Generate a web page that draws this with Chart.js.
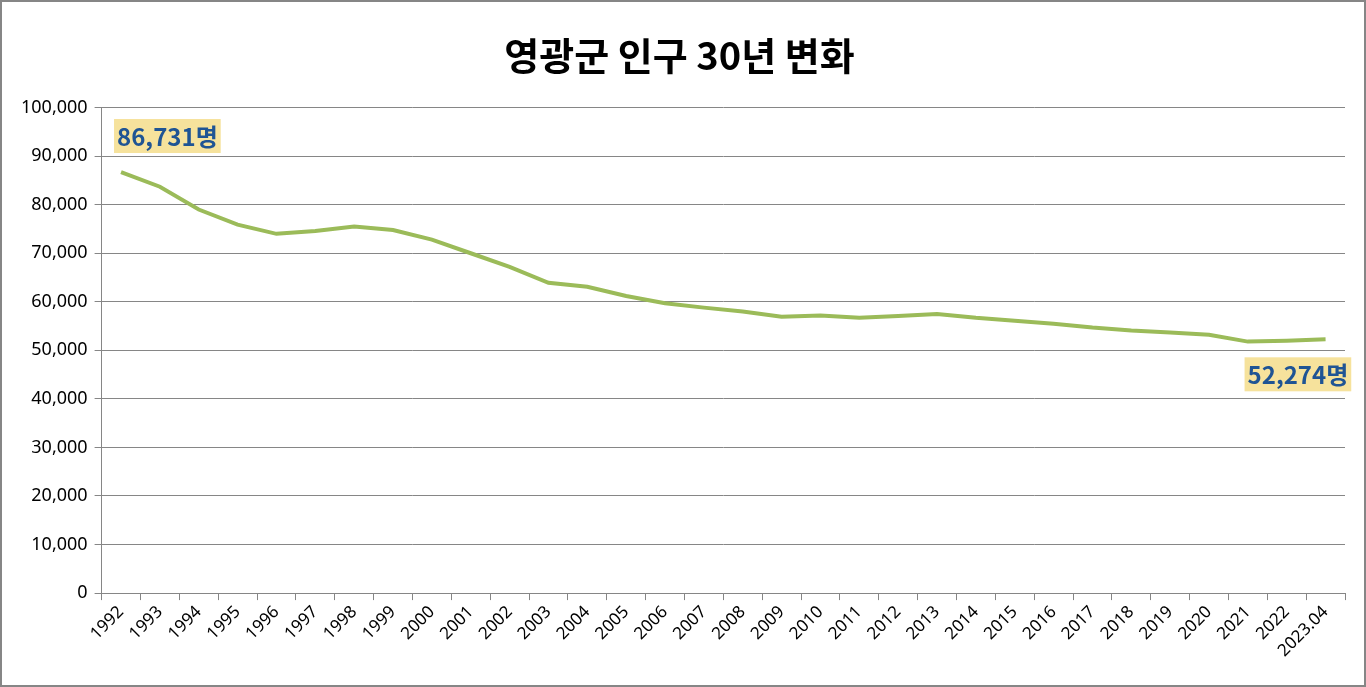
<!DOCTYPE html>
<html>
<head>
<meta charset="utf-8">
<script src="https://cdn.jsdelivr.net/npm/chart.js@4/dist/chart.umd.min.js"></script>
<style>
html,body{margin:0;padding:0;background:#fff;}
#wrap{position:relative;width:1366px;height:687px;box-sizing:border-box;border:2px solid #868686;}
canvas{display:block;}
</style>
</head>
<body>
<div id="wrap"><canvas id="c" width="1362" height="683"></canvas></div>
<script>
const titleText = '영광군 인구 30년 변화';
const years = ['1992','1993','1994','1995','1996','1997','1998','1999','2000','2001','2002','2003','2004','2005','2006','2007','2008','2009','2010','2011','2012','2013','2014','2015','2016','2017','2018','2019','2020','2021','2022','2023.04'];
const population = [86731,83700,79000,75900,74000,74600,75500,74800,72800,70000,67200,63900,63100,61200,59700,58800,58000,56900,57200,56700,57100,57500,56700,56100,55500,54700,54100,53700,53200,51800,52000,52274];
const yTicks = [0,10000,20000,30000,40000,50000,60000,70000,80000,90000,100000];
const calloutIdx = [0, population.length - 1];

const fmt = v => v.toLocaleString('en-US');

const callouts = {
  id: 'callouts',
  afterDatasetsDraw(chart) {
    const ctx = chart.ctx;
    const meta = chart.getDatasetMeta(0);
    ctx.save();
    ctx.font = 'bold 24px "Noto Sans CJK KR", "Noto Sans", sans-serif';
    ctx.textBaseline = 'middle';
    calloutIdx.forEach((i, k) => {
      const p = meta.data[i];
      const txt = fmt(population[i]) + '명';
      const w = ctx.measureText(txt).width + 6;
      const h = 34;
      let bx, by;
      if (k === 0) { bx = p.x - 7; by = p.y - 19 - h; }
      else { bx = p.x - 81; by = p.y + 18; }
      ctx.fillStyle = '#F6E29C';
      ctx.fillRect(bx, by, w, h);
      ctx.fillStyle = '#1F5494';
      ctx.textAlign = 'left';
      ctx.fillText(txt, bx + 3, by + h / 2 + 1);
    });
    ctx.restore();
  }
};

new Chart(document.getElementById('c'), {
  type: 'line',
  data: {
    labels: years,
    datasets: [{
      data: population,
      borderColor: '#9BBB59',
      borderWidth: 4,
      pointRadius: 0,
      tension: 0,
      fill: false
    }]
  },
  options: {
    responsive: false,
    animation: false,
    devicePixelRatio: 1,
    layout: { padding: { left: 12, right: 19, top: 6, bottom: 22 } },
    plugins: {
      legend: { display: false },
      tooltip: { enabled: false },
      title: {
        display: true,
        text: titleText,
        color: '#000',
        font: { family: '"Noto Sans CJK KR", sans-serif', size: 38, weight: 'bold' },
        padding: { top: 25, bottom: 29 }
      }
    },
    scales: {
      x: {
        offset: true,
        grid: { display: true, drawOnChartArea: false, offset: true, color: '#868686', tickLength: 7, tickWidth: 1 },
        border: { display: true, color: '#868686', width: 1 },
        ticks: {
          color: '#000',
          maxRotation: 45, minRotation: 45,
          autoSkip: false,
          font: { family: '"Noto Sans", "Open Sans", sans-serif', size: 17 },
          padding: 2
        }
      },
      y: {
        min: 0, max: 100000,
        afterBuildTicks(axis) { axis.ticks = yTicks.map(v => ({ value: v })); },
        grid: { color: '#868686', tickLength: 7, lineWidth: 1 },
        border: { display: true, color: '#868686', width: 1 },
        ticks: {
          color: '#000',
          font: { family: '"Noto Sans", "Open Sans", sans-serif', size: 18 },
          padding: 7,
          callback: v => fmt(v)
        }
      }
    }
  },
  plugins: [callouts]
});
</script>
</body>
</html>
